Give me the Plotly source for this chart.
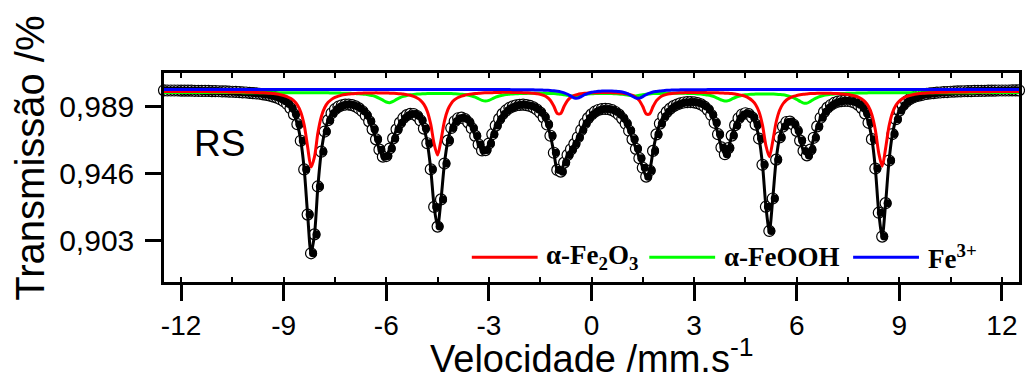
import numpy as np
import plotly.graph_objects as go

# Velocity channels (mm/s)
vel_start, vel_step, n_channels = -12.5, 0.1, 251
velocity = np.round(vel_start + vel_step * np.arange(n_channels), 2)

# Absorption, in units of 1e-4 (transmission = 1 - value/10000)
fit_absorption = [
    6, 7, 7, 7, 7, 8, 8, 8, 8, 9, 9, 10, 10, 10, 11, 11, 12, 13, 13, 14,
    15, 16, 17, 19, 20, 22, 24, 26, 28, 32, 35, 40, 46, 53, 63, 76, 94, 121, 160, 223,
    329, 513, 802, 1050, 929, 622, 399, 270, 197, 153, 127, 111, 102, 97, 97, 101, 109, 122, 140, 167,
    205, 256, 320, 386, 431, 427, 379, 314, 256, 213, 183, 165, 157, 158, 171, 199, 251, 345, 512, 753,
    879, 705, 475, 328, 247, 204, 185, 181, 190, 213, 249, 298, 353, 391, 389, 347, 287, 232, 189, 157,
    135, 119, 109, 102, 99, 98, 101, 106, 115, 129, 149, 179, 225, 297, 406, 516, 527, 469, 420, 384,
    349, 307, 260, 217, 184, 160, 143, 132, 126, 125, 127, 133, 145, 162, 187, 220, 265, 320, 381, 441,
    502, 559, 520, 394, 288, 219, 174, 144, 123, 107, 97, 89, 84, 82, 81, 83, 88, 96, 110, 131,
    164, 214, 287, 372, 415, 376, 296, 229, 185, 161, 153, 159, 181, 226, 315, 483, 752, 907, 699, 450,
    308, 238, 209, 206, 225, 266, 328, 394, 423, 386, 310, 237, 182, 144, 117, 100, 87, 79, 75, 73,
    74, 78, 86, 99, 120, 155, 214, 319, 507, 790, 943, 729, 456, 286, 191, 136, 101, 79, 63, 52,
    44, 38, 33, 29, 26, 24, 21, 20, 18, 17, 15, 14, 13, 13, 12, 11, 11, 10, 10, 9,
    9, 8, 8, 8, 7, 7, 7, 7, 6, 6, 6,
]
data_absorption = fit_absorption

hematite_absorption = [
    13, 13, 14, 14, 14, 14, 14, 14, 14, 14, 14, 14, 14, 14, 15, 15, 15, 15, 15, 16, 16, 16, 17, 17, 18, 18, 19, 20,
    21, 22, 23, 25, 27, 30, 34, 39, 47, 57, 74, 100, 146, 229, 369, 498, 433, 278, 174, 116, 83, 64, 51, 43, 37, 33, 30, 28,
    26, 25, 24, 23, 23, 23, 22, 23, 23, 23, 24, 25, 26, 28, 30, 34, 38, 45, 55, 70, 96, 141, 224, 351, 421, 324, 203, 130,
    89, 66, 52, 43, 37, 32, 29, 27, 25, 23, 22, 21, 21, 20, 20, 19, 19, 19, 20, 20, 20, 21, 22, 23, 25, 28, 32, 39,
    50, 71, 108, 154, 154, 108, 71, 50, 39, 32, 28, 25, 23, 22, 21, 21, 20, 20, 20, 21, 22, 23, 25, 28, 32, 39, 51, 72,
    110, 157, 157, 110, 72, 51, 39, 32, 28, 25, 23, 22, 21, 20, 20, 20, 20, 20, 20, 21, 21, 21, 22, 23, 24, 25, 27, 30,
    34, 38, 45, 56, 72, 98, 145, 229, 360, 432, 332, 209, 134, 92, 68, 54, 45, 39, 34, 31, 29, 27, 26, 25, 25, 25, 25, 25,
    26, 27, 29, 31, 33, 37, 42, 50, 62, 80, 110, 163, 260, 409, 492, 377, 235, 149, 102, 75, 58, 47, 39, 34, 30, 27, 25, 23,
    22, 21, 20, 19, 18, 18, 17, 17, 16, 16, 16, 16, 15, 15, 15, 15, 15, 15, 14, 14, 14, 14, 14, 14, 14, 14, 14,
]

goethite_absorption = [
    20, 20, 20, 20, 20, 20, 20, 20, 20, 20, 20, 20, 20, 20, 20, 20, 20, 20, 20, 20, 20, 20, 20, 21, 21, 21, 21, 21, 21, 21, 21, 21, 21, 21, 21, 21,
    21, 21, 21, 21, 21, 21, 21, 22, 22, 22, 22, 22, 22, 23, 23, 23, 24, 24, 25, 26, 27, 28, 30, 32, 36, 40, 47, 57, 69, 81, 85, 77, 64, 53, 45, 39,
    35, 32, 30, 29, 28, 27, 26, 26, 26, 26, 26, 27, 27, 28, 29, 31, 33, 37, 42, 50, 60, 70, 74, 70, 60, 50, 42, 37, 33, 31, 29, 28, 27, 26, 26, 25,
    25, 25, 25, 25, 26, 26, 27, 29, 31, 35, 38, 42, 42, 39, 35, 31, 29, 28, 27, 26, 26, 26, 26, 27, 28, 29, 31, 35, 38, 42, 42, 38, 34, 31, 29, 27,
    26, 26, 25, 25, 25, 25, 25, 25, 25, 26, 26, 27, 29, 30, 33, 36, 41, 48, 58, 68, 75, 72, 62, 52, 44, 39, 35, 32, 31, 30, 29, 29, 29, 29, 30, 31,
    33, 35, 39, 45, 53, 64, 77, 88, 88, 77, 63, 52, 44, 38, 34, 31, 29, 28, 26, 26, 25, 24, 24, 23, 23, 23, 22, 22, 22, 22, 22, 22, 22, 21, 21, 21,
    21, 21, 21, 21, 21, 21, 21, 21, 21, 21, 21, 21, 21, 21, 21, 21, 21, 21, 21, 21, 21, 21, 20, 20, 20, 20, 20, 20, 20, 20, 20, 20, 20, 20, 20,
]

fe3_absorption = [
    0, 0, 0, 0, 0, 0, 0, 0, 0, 0, 0, 0, 0, 0, 0, 0, 0, 0, 0, 0, 0, 0, 0, 0, 0, 0, 0, 0, 0, 0, 0, 0, 0, 0, 0, 0,
    0, 0, 0, 0, 0, 0, 0, 0, 0, 0, 0, 0, 0, 0, 0, 0, 0, 0, 0, 0, 0, 0, 0, 0, 0, 0, 0, 0, 0, 0, 0, 0, 0, 0, 0, 0,
    0, 0, 0, 0, 0, 0, 0, 0, 0, 0, 0, 0, 0, 0, 1, 1, 1, 1, 1, 1, 1, 1, 1, 1, 1, 1, 1, 1, 1, 1, 2, 2, 2, 2, 2, 3,
    3, 4, 4, 5, 6, 7, 9, 12, 16, 22, 31, 43, 55, 56, 46, 34, 25, 18, 15, 12, 11, 10, 10, 10, 12, 14, 17, 23, 32, 44, 55, 56, 46, 33, 24, 17,
    13, 10, 8, 6, 5, 4, 4, 3, 3, 2, 2, 2, 2, 2, 2, 1, 1, 1, 1, 1, 1, 1, 1, 1, 1, 1, 1, 1, 1, 1, 1, 0, 0, 0, 0, 0,
    0, 0, 0, 0, 0, 0, 0, 0, 0, 0, 0, 0, 0, 0, 0, 0, 0, 0, 0, 0, 0, 0, 0, 0, 0, 0, 0, 0, 0, 0, 0, 0, 0, 0, 0, 0,
    0, 0, 0, 0, 0, 0, 0, 0, 0, 0, 0, 0, 0, 0, 0, 0, 0, 0, 0, 0, 0, 0, 0, 0, 0, 0, 0, 0, 0, 0, 0, 0, 0, 0, 0,
]

component_names = ['\u03b1-Fe<sub>2</sub>O<sub>3</sub>', '\u03b1-FeOOH', 'Fe<sup>3+</sup>']
component_colors = ['#ff0000', '#00ff00', '#0000ff']
x_tickvals = [-12, -9, -6, -3, 0, 3, 6, 9, 12]
x_ticktext = ['-12', '-9', '-6', '-3', '0', '3', '6', '9', '12']
y_tickvals = [0.903, 0.946, 0.989]
y_ticktext = ['0,903', '0,946', '0,989']


def transmission(absorption):
    return 1 - np.array(absorption) / 10000.0

data = transmission(data_absorption)
fit = transmission(fit_absorption)
components = [transmission(hematite_absorption), transmission(goethite_absorption), transmission(fe3_absorption)]

x_range = [-12.5, 12.5]
disc_shift = 0.058

fig = go.Figure()
# open circles
fig.add_trace(go.Scatter(x=velocity, y=data, mode='markers', cliponaxis=False, showlegend=False,
                         marker=dict(symbol='circle', size=11, color='white', line=dict(color='black', width=1.2))))
# dummy for top tick axis
fig.add_trace(go.Scatter(x=[velocity[0]], y=[data[0]], mode='none', xaxis='x2', showlegend=False))
# black right-half of the circles
fig.add_trace(go.Scatter(x=velocity, y=data, mode='markers', xaxis='x3', cliponaxis=False, showlegend=False,
                         marker=dict(symbol='circle', size=8, color='black', line=dict(width=0))))
# fit and components
fig.add_trace(go.Scatter(x=velocity, y=fit, mode='lines', xaxis='x4', showlegend=False,
                         line=dict(color='black', width=3, shape='spline', smoothing=0.8)))
for idx in [1, 0, 2]:
    fig.add_trace(go.Scatter(x=velocity, y=components[idx], mode='lines', xaxis='x4', showlegend=False,
                             line=dict(color=component_colors[idx], width=3, shape='spline', smoothing=0.8)))

font_sans = 'Liberation Sans, Arial, sans-serif'
fig.update_layout(
    width=1025, height=381, margin=dict(l=164, r=3, t=73, b=99),
    plot_bgcolor='white', paper_bgcolor='white', showlegend=False,
    xaxis=dict(range=x_range, tickmode='array', tickvals=x_tickvals, ticktext=x_ticktext, ticks='outside',
               ticklen=16, tickwidth=2.5, tickcolor='black', showline=True, linewidth=2.5, linecolor='black',
               mirror=True, showgrid=False, zeroline=False, ticklabelstandoff=1,
               tickfont=dict(family=font_sans, size=28, color='black'),
               minor=dict(ticks='inside', ticklen=5, tickwidth=2, tickcolor='black', tickmode='linear',
                          tick0=0, dtick=1.5)),
    xaxis2=dict(range=x_range, overlaying='x', side='top', tickmode='linear', tick0=0, dtick=1.5,
                ticks='inside', ticklen=5, tickwidth=2, tickcolor='black', showticklabels=False,
                showline=False, showgrid=False, zeroline=False),
    xaxis3=dict(range=[x_range[0] - disc_shift, x_range[1] - disc_shift], overlaying='x', visible=False),
    xaxis4=dict(range=x_range, overlaying='x', visible=False),
    yaxis=dict(range=[0.8766, 1.0105], tickmode='array', tickvals=y_tickvals, ticktext=y_ticktext,
               ticks='outside', ticklen=16, tickwidth=2.5, tickcolor='black', showline=True, linewidth=2.5,
               linecolor='black', mirror=True, showgrid=False, zeroline=False, ticklabelstandoff=5,
               tickfont=dict(family=font_sans, size=30, color='black')),
)

legend_x0 = [0.360, 0.5676, 0.806]
legend_len = 0.077
legend_y = 0.1185
for name, col, x0 in zip(component_names, component_colors, legend_x0):
    fig.add_shape(type='line', xref='paper', yref='paper', x0=x0, x1=x0 + legend_len, y0=legend_y, y1=legend_y,
                  line=dict(color=col, width=3))
    fig.add_annotation(xref='paper', yref='paper', x=x0 + legend_len + 0.008, y=legend_y, xanchor='left',
                       yanchor='middle', text='<b>' + name + '</b>', showarrow=False,
                       font=dict(family='Liberation Serif, Times New Roman, serif', size=27, color='black'))

fig.add_annotation(xref='paper', yref='paper', x=0.0323, y=0.664, xanchor='left', yanchor='middle', text='RS',
                   showarrow=False, font=dict(family=font_sans, size=37, color='black'))
fig.add_annotation(xref='paper', yref='paper', x=0.5, y=-0.352, xanchor='center', yanchor='middle',
                   text='Velocidade /mm.s<sup>-1</sup>', showarrow=False,
                   font=dict(family=font_sans, size=38, color='black'))
fig.add_annotation(xref='paper', yref='paper', x=-0.157, y=0.5936, xanchor='center', yanchor='middle',
                   text='Transmissão /%', textangle=-90, showarrow=False,
                   font=dict(family=font_sans, size=40, color='black'))

fig.write_html('out.html', config={'displayModeBar': False},
               post_script="document.body.style.margin='0px';")
